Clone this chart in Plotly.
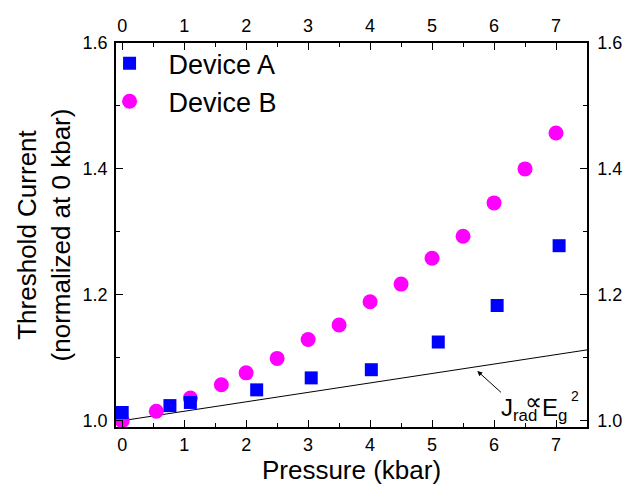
import plotly.graph_objects as go

# Device A (blue squares)
a_pressure = [0.0, 0.77, 1.1, 2.17, 3.05, 4.02, 5.1, 6.05, 7.05]
a_current = [1.013, 1.024, 1.029, 1.049, 1.068, 1.081, 1.125, 1.183, 1.278]

# Device B (magenta circles)
b_pressure = [0.0, 0.55, 1.1, 1.6, 2.0, 2.5, 3.0, 3.5, 4.0, 4.5, 5.0, 5.5, 6.0, 6.5, 7.0]
b_current = [1.0, 1.015, 1.036, 1.057, 1.076, 1.099, 1.129, 1.152, 1.189, 1.217,
             1.258, 1.293, 1.346, 1.400, 1.457]

# J_rad ∝ Eg^2 reference line
line_pressure = [-0.1, 7.5]
line_current = [0.9985, 1.1125]

x_ticks = [0, 1, 2, 3, 4, 5, 6, 7]
y_ticks = [1.0, 1.2, 1.4, 1.6]

FONT = "Liberation Sans, Arial, sans-serif"
X_RANGE = [-0.1, 7.5]
Y_RANGE = [0.99, 1.6]

fig = go.Figure()

fig.add_trace(go.Scatter(x=line_pressure, y=line_current, mode="lines",
                         line=dict(color="black", width=1), showlegend=False,
                         hoverinfo="skip"))
fig.add_trace(go.Scatter(x=b_pressure, y=b_current, mode="markers", name="Device B",
                         marker=dict(symbol="circle", size=15, color="#FF00FF"),
                         legendrank=2))
fig.add_trace(go.Scatter(x=a_pressure, y=a_current, mode="markers", name="Device A",
                         marker=dict(symbol="square", size=13, color="#0000FF"),
                         legendrank=1))
# invisible trace to activate top/right axes
fig.add_trace(go.Scatter(x=line_pressure, y=line_current, mode="lines",
                         xaxis="x2", yaxis="y2", opacity=0, showlegend=False,
                         hoverinfo="skip"))

axis_common = dict(showgrid=False, zeroline=False, showline=True, linecolor="black",
                   linewidth=1.5, ticks="inside", ticklen=7, tickwidth=1.2,
                   tickcolor="black", automargin=False,
                   tickfont=dict(family=FONT, size=18, color="black"))

label_font = dict(family=FONT, size=24, color="black")

fig.update_layout(
    width=626, height=485,
    margin=dict(l=116, r=39, t=43, b=58),
    paper_bgcolor="white", plot_bgcolor="white",
    font=dict(family=FONT, color="black"),
    xaxis=dict(range=X_RANGE, tickvals=x_ticks, ticklabelstandoff=1,
               minor=dict(dtick=0.5, ticklen=4, ticks="inside", tickcolor="black"),
               title=dict(text="Pressure (kbar)", font=dict(family=FONT, size=26),
                          standoff=5),
               **axis_common),
    yaxis=dict(range=Y_RANGE, tickvals=y_ticks, tickformat=".1f", ticklabelstandoff=3,
               minor=dict(dtick=0.1, ticklen=4, ticks="inside", tickcolor="black"),
               title=dict(text="Threshold Current<br>(normalized at 0 kbar)",
                          font=dict(family=FONT, size=26), standoff=5),
               **axis_common),
    xaxis2=dict(range=X_RANGE, tickvals=x_ticks, overlaying="x", side="top",
                ticklabelstandoff=2,
                minor=dict(dtick=0.5, ticklen=4, ticks="inside", tickcolor="black"),
                **axis_common),
    yaxis2=dict(range=Y_RANGE, tickvals=y_ticks, tickformat=".1f", overlaying="y",
                side="right", ticklabelstandoff=5,
                minor=dict(dtick=0.1, ticklen=4, ticks="inside", tickcolor="black"),
                **axis_common),
    legend=dict(x=-0.054, y=1.01, xanchor="left", yanchor="top",
                bgcolor="rgba(0,0,0,0)", font=dict(family=FONT, size=27),
                itemwidth=68),
    annotations=[
        dict(x=5.73, y=1.079, ax=6.135, ay=1.043, xref="x", yref="y",
             axref="x", ayref="y", text="", showarrow=True, arrowhead=2,
             arrowsize=1, arrowwidth=1, arrowcolor="black"),
        dict(x=6.08, y=1.0186, xref="x", yref="y", xanchor="left", yanchor="middle",
             text="J<sub>rad</sub>", showarrow=False, font=label_font),
        dict(x=6.64, y=1.0313, xref="x", yref="y", xanchor="center", yanchor="middle",
             text="∝", showarrow=False, font=dict(family=FONT, size=24, color="black")),
        dict(x=6.742, y=1.0186, xref="x", yref="y", xanchor="left", yanchor="middle",
             text="E<sub>g</sub>", showarrow=False, font=label_font),
        dict(x=7.306, y=1.040, xref="x", yref="y", xanchor="center", yanchor="middle",
             text="2", showarrow=False, font=dict(family=FONT, size=14, color="black")),
    ],
)

fig.write_html("out.html", config={"displayModeBar": False},
               post_script="document.body.style.margin='0';"
                           "document.body.style.overflow='hidden';")
